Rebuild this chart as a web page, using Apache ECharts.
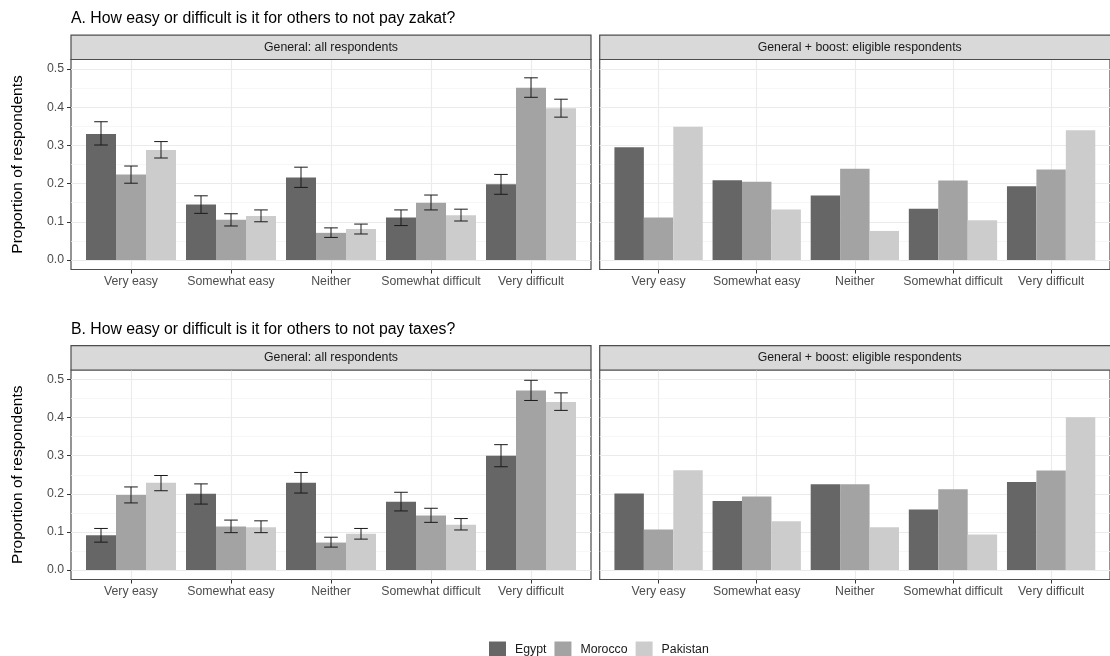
<!DOCTYPE html>
<html><head><meta charset="utf-8">
<script src="https://cdn.jsdelivr.net/npm/echarts@6/dist/echarts.min.js"></script>
<style>html,body{margin:0;padding:0;background:#fff}#c{width:1110px;height:656px}</style>
</head><body><div id="c"></div>
<script>
const categories = ['Very easy', 'Somewhat easy', 'Neither', 'Somewhat difficult', 'Very difficult'];
const countries = ['Egypt', 'Morocco', 'Pakistan'];
const yTicks = [0, 0.1, 0.2, 0.3, 0.4, 0.5];
const yMinorTicks = [0.05, 0.15, 0.25, 0.35, 0.45];
const panelTitles = ['General: all respondents', 'General + boost: eligible respondents'];
const questionTitles = ['A. How easy or difficult is it for others to not pay zakat?', 'B. How easy or difficult is it for others to not pay taxes?'];
const yTitle = 'Proportion of respondents';

// A. zakat, general: all respondents
const zakatGenEgypt = [0.330, 0.145, 0.216, 0.111, 0.198];
const zakatGenEgyptLo = [0.301, 0.122, 0.190, 0.090, 0.172];
const zakatGenEgyptHi = [0.362, 0.168, 0.243, 0.131, 0.224];
const zakatGenMorocco = [0.224, 0.105, 0.071, 0.150, 0.451];
const zakatGenMoroccoLo = [0.201, 0.089, 0.059, 0.131, 0.426];
const zakatGenMoroccoHi = [0.246, 0.121, 0.084, 0.170, 0.477];
const zakatGenPakistan = [0.288, 0.115, 0.081, 0.117, 0.397];
const zakatGenPakistanLo = [0.267, 0.100, 0.068, 0.102, 0.374];
const zakatGenPakistanHi = [0.310, 0.131, 0.094, 0.133, 0.421];
// A. zakat, general + boost
const zakatBoostEgypt = [0.295, 0.209, 0.169, 0.134, 0.193];
const zakatBoostMorocco = [0.111, 0.205, 0.239, 0.208, 0.237];
const zakatBoostPakistan = [0.349, 0.132, 0.076, 0.104, 0.340];
// B. taxes, general: all respondents
const taxGenEgypt = [0.091, 0.200, 0.229, 0.179, 0.300];
const taxGenEgyptLo = [0.073, 0.173, 0.202, 0.155, 0.271];
const taxGenEgyptHi = [0.109, 0.226, 0.256, 0.204, 0.329];
const taxGenMorocco = [0.197, 0.114, 0.072, 0.143, 0.471];
const taxGenMoroccoLo = [0.176, 0.098, 0.060, 0.125, 0.445];
const taxGenMoroccoHi = [0.218, 0.131, 0.086, 0.162, 0.498];
const taxGenPakistan = [0.229, 0.112, 0.095, 0.119, 0.441];
const taxGenPakistanLo = [0.208, 0.098, 0.081, 0.105, 0.419];
const taxGenPakistanHi = [0.248, 0.129, 0.109, 0.135, 0.465];
// B. taxes, general + boost
const taxBoostEgypt = [0.201, 0.181, 0.225, 0.159, 0.231];
const taxBoostMorocco = [0.106, 0.193, 0.225, 0.212, 0.261];
const taxBoostPakistan = [0.262, 0.128, 0.112, 0.093, 0.401];

const countryColors = ['#666666', '#a3a3a3', '#cccccc'];
const FONT = "'Liberation Sans', Arial, sans-serif";

const panels = [
  { left: 71, top: 59.5, height: 210, bars: [zakatGenEgypt, zakatGenMorocco, zakatGenPakistan],
    lo: [zakatGenEgyptLo, zakatGenMoroccoLo, zakatGenPakistanLo], hi: [zakatGenEgyptHi, zakatGenMoroccoHi, zakatGenPakistanHi], isLeft: true },
  { left: 599.7, top: 59.5, height: 210, bars: [zakatBoostEgypt, zakatBoostMorocco, zakatBoostPakistan], isLeft: false },
  { left: 71, top: 370, height: 209.5, bars: [taxGenEgypt, taxGenMorocco, taxGenPakistan],
    lo: [taxGenEgyptLo, taxGenMoroccoLo, taxGenPakistanLo], hi: [taxGenEgyptHi, taxGenMoroccoHi, taxGenPakistanHi], isLeft: true },
  { left: 599.7, top: 370, height: 209.5, bars: [taxBoostEgypt, taxBoostMorocco, taxBoostPakistan], isLeft: false }
];
const PW = 520;
const catIdx = categories.map((c, i) => i);

function barRender(k) {
  return function (params, api) {
    const x = api.value(0) + (k - 1) * 0.3;
    const v = api.value(1);
    const p0 = api.coord([x - 0.15, 0]);
    const p1 = api.coord([x + 0.15, v]);
    return { type: 'rect', shape: { x: p0[0], y: p1[1], width: p1[0] - p0[0], height: p0[1] - p1[1] },
      style: { fill: api.visual('color') } };
  };
}
function errRender(k) {
  return function (params, api) {
    const x = api.value(0) + (k - 1) * 0.3;
    const a = api.coord([x, api.value(1)]);
    const b = api.coord([x, api.value(2)]);
    const l = api.coord([x - 0.068, 0])[0];
    const r = api.coord([x + 0.068, 0])[0];
    const st = { stroke: '#1a1a1a', lineWidth: 1 };
    return { type: 'group', children: [
      { type: 'line', shape: { x1: a[0], y1: a[1], x2: b[0], y2: b[1] }, style: st },
      { type: 'line', shape: { x1: l, y1: a[1], x2: r, y2: a[1] }, style: st },
      { type: 'line', shape: { x1: l, y1: b[1], x2: r, y2: b[1] }, style: st }
    ] };
  };
}

const grid = [], xAxis = [], yAxis = [], series = [], graphic = [];
panels.forEach((p, g) => {
  grid.push({ left: p.left, top: p.top, width: PW, height: p.height, show: true,
    backgroundColor: '#fff', borderColor: '#4d4d4d', borderWidth: 1.2 });
  xAxis.push({ gridIndex: g, type: 'value', min: -0.6, max: 4.6, position: 'bottom',
    axisLine: { show: false, onZero: false },
    axisTick: { show: true, customValues: catIdx, length: 4, lineStyle: { color: '#333', width: 1 } },
    axisLabel: { customValues: catIdx, formatter: v => categories[Math.round(v)], color: '#4d4d4d', fontSize: 12.3, fontFamily: FONT, margin: 6 },
    splitLine: { show: true, lineStyle: { color: '#ebebeb', width: 1.1 } } });
  yAxis.push({ gridIndex: g, type: 'value', min: -0.025, max: 0.525, position: 'left',
    axisLine: { show: false, onZero: false },
    axisTick: { show: p.isLeft, customValues: yTicks, length: 4, lineStyle: { color: '#333', width: 1 } },
    axisLabel: { show: p.isLeft, customValues: yTicks, formatter: v => v.toFixed(1), color: '#4d4d4d', fontSize: 12.3, fontFamily: FONT, margin: 7 },
    splitLine: { show: true, lineStyle: { color: '#ebebeb', width: 1.1 } },
    name: p.isLeft ? yTitle : '', nameLocation: 'middle', nameGap: 45,
    nameTextStyle: { fontSize: 15.5, color: '#000', fontFamily: FONT } });
  yAxis.push({ gridIndex: g, type: 'value', min: -0.025, max: 0.525, position: 'left',
    axisLine: { show: false, onZero: false }, axisTick: { show: false, customValues: yMinorTicks },
    axisLabel: { show: false, customValues: yMinorTicks },
    splitLine: { show: true, lineStyle: { color: '#f4f4f4', width: 0.7 } } });
  const yi = 2 * g;
  countries.forEach((c, k) => {
    series.push({ type: 'custom', name: c, xAxisIndex: g, yAxisIndex: yi, z: 2,
      itemStyle: { color: countryColors[k] },
      renderItem: barRender(k), encode: { x: 0, y: 1 },
      data: p.bars[k].map((v, i) => [i, v]) });
  });
  if (p.lo) {
    countries.forEach((c, k) => {
      series.push({ type: 'custom', name: c, xAxisIndex: g, yAxisIndex: yi, z: 3,
        itemStyle: { color: countryColors[k] },
        renderItem: errRender(k), encode: { x: 0, y: [1, 2] },
        data: p.lo[k].map((v, i) => [i, v, p.hi[k][i]]) });
    });
  }
  // facet strip
  const stripH = 24.3;
  graphic.push({ type: 'rect', z: 10, shape: { x: p.left, y: p.top - stripH, width: PW, height: stripH },
    style: { fill: '#d9d9d9', stroke: '#4d4d4d', lineWidth: 1.2 } });
  graphic.push({ type: 'text', z: 11, x: p.left + PW / 2, y: p.top - stripH / 2,
    style: { text: panelTitles[g % 2], align: 'center', verticalAlign: 'middle', fill: '#1a1a1a', fontSize: 12.3, fontFamily: FONT } });
});
graphic.push({ type: 'text', z: 11, x: 71, y: 18.5,
  style: { text: questionTitles[0], align: 'left', verticalAlign: 'middle', fill: '#000', fontSize: 15.8, fontFamily: FONT } });
graphic.push({ type: 'text', z: 11, x: 71, y: 330,
  style: { text: questionTitles[1], align: 'left', verticalAlign: 'middle', fill: '#000', fontSize: 15.8, fontFamily: FONT } });

const option = {
  animation: false,
  textStyle: { fontFamily: FONT },
  grid, xAxis, yAxis, series, graphic,
  legend: { data: countries, left: 489, top: 641.5, padding: 0, itemWidth: 17, itemHeight: 17, itemGap: 8,
    icon: 'rect', selectedMode: false,
    textStyle: { fontSize: 12.3, color: '#1a1a1a', fontFamily: FONT, padding: [0, 0, 0, 4] } }
};
const chart = echarts.init(document.getElementById('c'));
chart.setOption(option);
</script></body></html>
